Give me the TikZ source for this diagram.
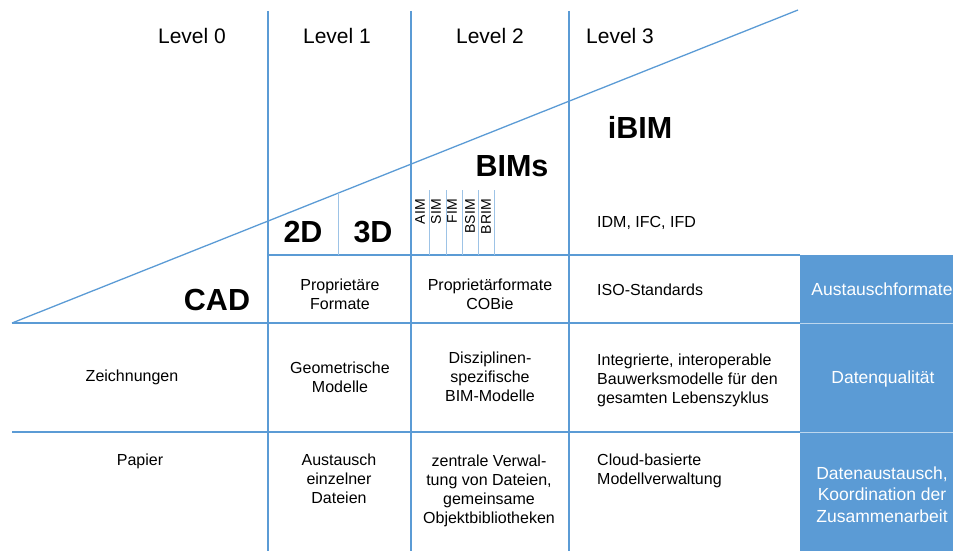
\documentclass[tikz,border=0pt]{standalone}
\usepackage{fontspec}
\setmainfont{Liberation Sans}
\usepackage{xcolor}
\definecolor{bimblue}{HTML}{5B9BD5}
\definecolor{bimpale}{HTML}{BDD7EE}

\begin{document}
\begin{tikzpicture}[x=1pt, y=-1pt,
        grid/.style={bimblue, line width=1.3pt},
        fine/.style={bimblue!60, line width=0.8pt},
        txt/.style={anchor=base, inner sep=0pt, align=center, font=\fontsize{16}{19}\selectfont},
        ltxt/.style={txt, anchor=base west, align=left},
        head/.style={anchor=base, inner sep=0pt, font=\fontsize{21}{25}\selectfont},
        big/.style={anchor=base, inner sep=0pt, font=\fontsize{30.5}{36}\selectfont\bfseries},
        tag/.style={rotate=90, anchor=east, inner sep=0pt, font=\fontsize{14}{16}\selectfont},
        side/.style={anchor=base, inner sep=0pt, align=center, text=white, font=\fontsize{17.5}{21.5}\selectfont}]
                        \useasboundingbox (0,0) rectangle (953,551);

                        \fill[bimblue] (800,255) rectangle (953,551);
                        \draw[bimpale, line width=1pt] (800,323) to (953,323);
                        \draw[bimpale, line width=1pt] (800,432) to (953,432);

                        \draw[grid] (268,11) to (268,551);
                        \draw[grid] (411,11) to (411,551);
                        \draw[grid] (569,11) to (569,551);
                        \draw[grid] (268,255) to (800,255);
                        \draw[grid] (12,323) to (800,323);
                        \draw[grid] (12,432) to (800,432);
                        \draw[grid] (12,323) to (798,10);

                        \draw[fine] (338,193) to (338,255);
                        \foreach \x in {429,446,462,478,494}
                            \draw[fine] (\x,190) to (\x,255);

                        \node[head] (L0) at (192,44) {Level 0};
                        \node[head] (L1) at (337,44) {Level 1};
                        \node[head] (L2) at (490,44) {Level 2};
                        \node[head] (L3) at (620,44) {Level 3};

                        \node[big] (ibim) at (640,138) {iBIM};
                        \node[big] (bims) at (512,176) {BIMs};
                        \node[big] (twoD) at (303,242) {2D};
                        \node[big] (threeD) at (373,242) {3D};
                        \node[big] (cad) at (217,310) {CAD};

                        \foreach \t/\x in {AIM/420,SIM/436,FIM/452,BSIM/470,BRIM/486}
                            \node[tag] (\t) at (\x,199) {\t};

                        % multi-line nodes sit on their last line
                        \node[ltxt] (idm) at (597,227) {IDM, IFC, IFD};
                        \node[txt] (propA) at (340,309) {Proprietäre\\Formate};
                        \node[txt] (propB) at (490,309) {Proprietärformate\\COBie};
                        \node[ltxt] (iso) at (597,295) {ISO-Standards};
                        \node[side] (exch) at (882,295) {Austauschformate};

                        \node[txt] (draw) at (132,381) {Zeichnungen};
                        \node[txt] (geo) at (340,392) {Geometrische\\Modelle};
                        \node[txt] (disc) at (490,401) {Disziplinen-\\spezifische\\BIM-Modelle};
                        \node[ltxt] (integ) at (597,403) {Integrierte, interoperable\\Bauwerksmodelle für den\\gesamten Lebenszyklus};
                        \node[side] (qual) at (883,383) {Datenqualität};

                        \node[txt] (paper) at (140,465) {Papier};
                        \node[txt] (single) at (339,503) {Austausch\\einzelner\\Dateien};
                        \node[txt] (central) at (489,523) {zentrale Verwal-\\tung von Dateien,\\gemeinsame\\Objektbibliotheken};
                        \node[ltxt] (cloud) at (597,484) {Cloud-basierte\\Modellverwaltung};
                        \node[side] (coord) at (882,522) {Datenaustausch,\\Koordination der\\Zusammenarbeit};
                    \end{tikzpicture}
\end{document}
